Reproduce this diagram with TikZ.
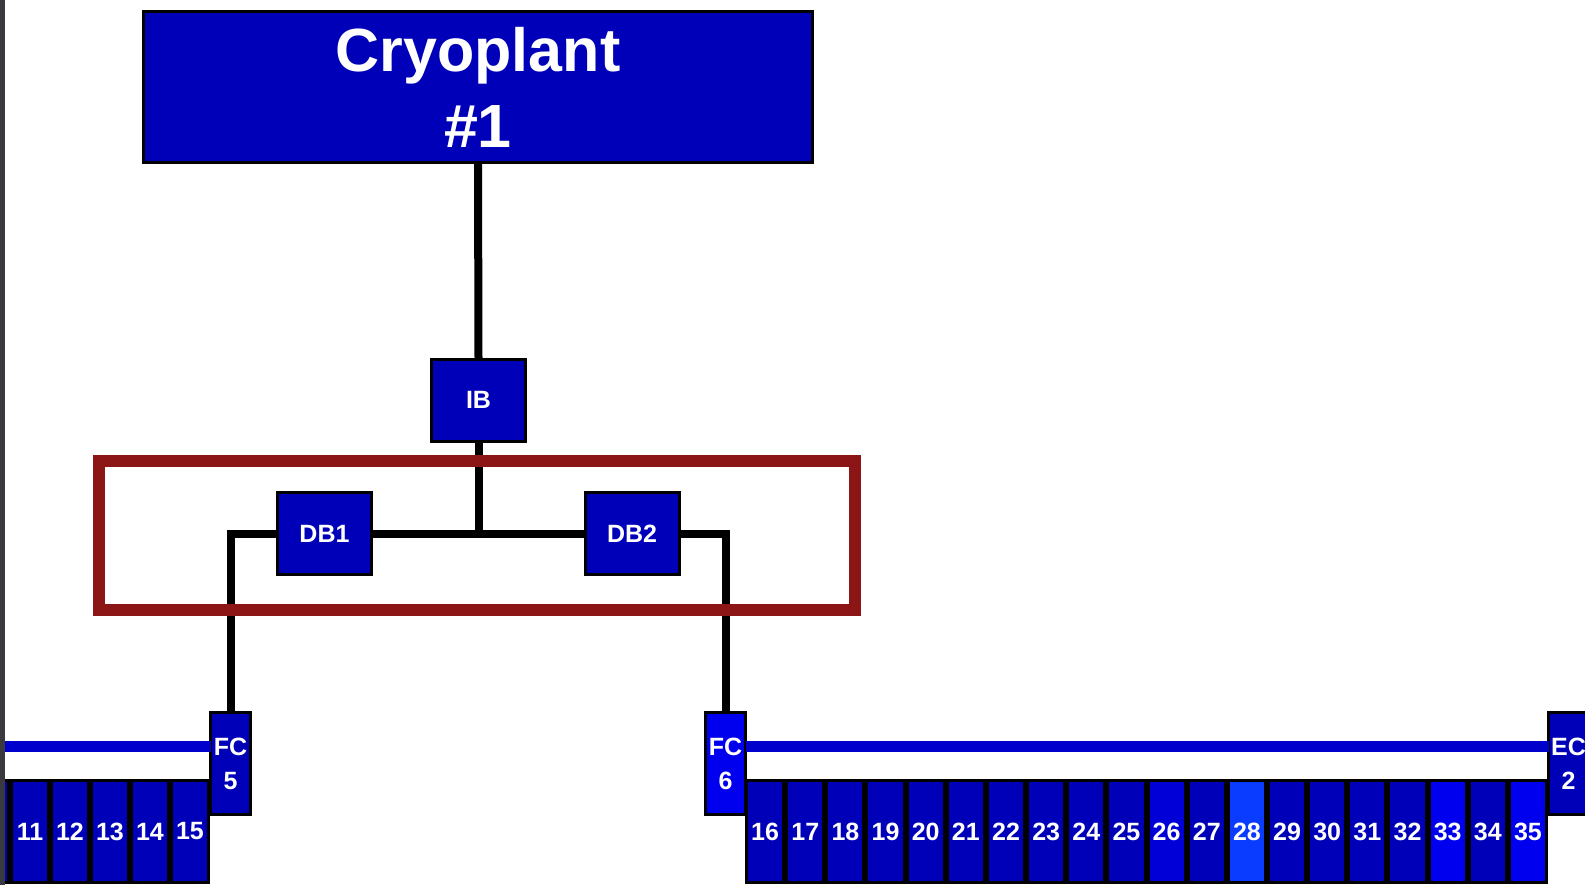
\documentclass[tikz,border=0pt]{standalone}
\usepackage{fontspec}
\setmainfont{Liberation Sans}
\definecolor{boxblue}{RGB}{0,0,184}
\definecolor{midblue}{RGB}{0,0,215}
\definecolor{brightblue}{RGB}{0,0,238}
\definecolor{skyblue}{RGB}{10,60,255}
\definecolor{busblue}{RGB}{0,0,205}
\definecolor{framered}{RGB}{140,22,22}
\definecolor{photogray}{RGB}{58,58,62}
\tikzset{
  blk/.style={draw=black, line width=3pt, fill=boxblue, text=white,
    inner sep=0pt, outer sep=0pt, align=center,
    font=\bfseries\fontsize{25}{34}\selectfont},
  cell/.style={blk, minimum width=37.15pt, minimum height=102pt},
  fcbox/.style={blk, minimum width=40pt, minimum height=102pt},
  dbbox/.style={blk, minimum width=94pt, minimum height=82pt},
  wire/.style={draw=black, line width=8pt},
  bus/.style={draw=busblue, line width=11pt},
  frame/.style={draw=framered, line width=12pt}
}
\begin{document}
\begin{tikzpicture}[x=1pt,y=-1pt]
\useasboundingbox (0,0) rectangle (1585,885);
\fill[white] (0,0) rectangle (1585,885);

% plant, interconnection box and distribution boxes
\node[blk, minimum width=669pt, minimum height=151pt,
      font=\bfseries\fontsize{61}{76}\selectfont] (cryo) at (478,87) {Cryoplant\\\#1};
\node[dbbox] (ib) at (478.5,400) {IB};
\node[dbbox] (db1) at (324.5,533.5) {DB1};
\node[dbbox] (db2) at (632,533.5) {DB2};

% feed and end boxes
\node[fcbox] (fc5) at (230.5,763.5) {FC\\5};
\node[fcbox, fill=brightblue] (fc6) at (725.5,763.5) {FC\\6};
\node[fcbox] (ec2) at (1568.5,763.5) {EC\\2};

% transfer lines
\coordinate (busL) at (0,746);
\draw[bus] (busL) -- (busL -| fc5.west);
\draw[bus] (fc6.east |- busL) -- (ec2.west |- busL);

% sector cells
\node[cell] (c10) at (-10,831.5) {};
\foreach \n [count=\i from 0] in {11,...,15}
  \node[cell] (c\n) at ({30+40*\i},831.5) {\n};
\foreach \n/\col [count=\i from 0] in {16/boxblue,17/boxblue,18/boxblue,19/boxblue,
    20/boxblue,21/boxblue,22/boxblue,23/boxblue,24/boxblue,25/boxblue,26/midblue,
    27/boxblue,28/skyblue,29/boxblue,30/boxblue,31/boxblue,32/boxblue,33/brightblue,
    34/boxblue,35/brightblue}
  \node[cell, fill=\col] (c\n) at ({765.1+40.15*\i},831.5) {\n};

% cryogenic distribution
\draw[wire] (cryo.south) -- (ib.north);
\coordinate (junc) at (ib.south |- db1.east);
\draw[wire] (ib.south) -- (junc);
\draw[wire] (db1.east) -- (db2.west);
\draw[wire] (db1.west) -- (db1.west -| fc5.north) -- (fc5.north);
\draw[wire] (db2.east) -- (db2.east -| fc6.north) -- (fc6.north);

% highlighted distribution boxes
\draw[frame] (99,461) rectangle (854.5,610);

% photo strip at the left edge
\fill[photogray] (0,0) rectangle (5,885);
\end{tikzpicture}
\end{document}
